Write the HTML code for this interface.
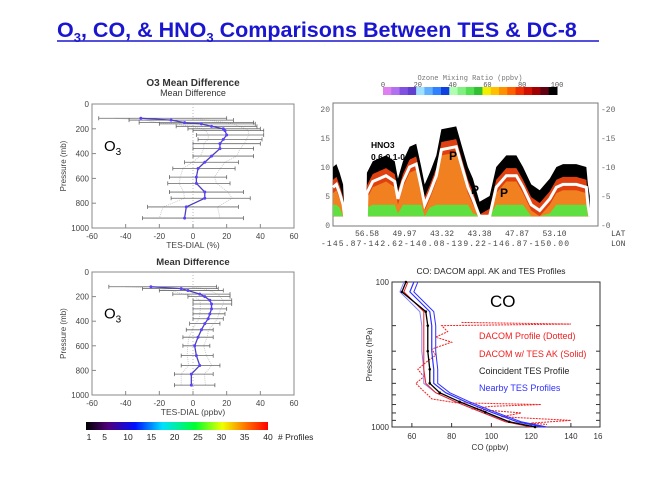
<!DOCTYPE html>
<html><head><meta charset="utf-8">
<style>
html,body{margin:0;padding:0;background:#fff;}
svg{display:block;font-family:"Liberation Sans",sans-serif;}
</style></head>
<body>
<svg id="s" width="667" height="500" viewBox="0 0 667 500">
<defs>
<linearGradient id="rain" x1="0" x2="1" y1="0" y2="0">
<stop offset="0" stop-color="#000"/><stop offset="0.12" stop-color="#50007a"/><stop offset="0.27" stop-color="#0010ff"/><stop offset="0.42" stop-color="#00e0ff"/><stop offset="0.6" stop-color="#00ff30"/><stop offset="0.75" stop-color="#f0ff00"/><stop offset="0.88" stop-color="#ff7000"/><stop offset="1" stop-color="#ff0000"/>
</linearGradient>
</defs>
<g>
<text x="57" y="37" font-size="21.5" font-weight="bold" fill="#1a16d0">O<tspan font-size="13" dy="5">3</tspan><tspan dy="-5">, CO, &amp; HNO</tspan><tspan font-size="13" dy="5">3</tspan><tspan dy="-5"> Comparisons Between TES &amp; DC-8</tspan></text>
<line x1="57" y1="41" x2="599" y2="41" stroke="#1a16d0" stroke-width="1.5"/>
</g>
<g id="tl"></g>
<g id="bl"></g>
<g id="tr"></g>
<g id="br"></g>
</svg>
<script>
// ---- O3 % panel data ----
const pctLevels=[115,130,150,160,180,200,215,250,285,320,360,420,470,520,590,640,710,760,830,920];
const pctMean=[-31,-13,-5,5,11,18,19,20,18,16,16,11,7,3,2,2,7,7,-4,-5];
const pctLo=[-56,-38,-32,-20,-10,-3,0,2,3,0,0,0,-5,-12,-14,-15,-14,-13,-27,-30];
const pctHi=[20,24,36,37,38,40,42,42,41,40,36,36,27,25,20,22,30,34,27,30];
// ---- O3 ppbv panel data ----
const ppbLevels=[120,135,150,180,200,230,260,300,340,380,420,470,530,600,680,760,830,920];
const ppbMean=[-25,-7,-3,4,7,10,11,11,10,9,7,5,3,1,2,4,-1,-1];
const ppbLo=[-50,-30,-20,-12,-3,0,0,0,0,0,-2,-4,-6,-6,-7,-7,-11,-11];
const ppbHi=[14,15,18,22,22,23,23,20,19,18,16,12,12,10,12,16,12,13];
const diffTicksX=[-60,-40,-20,0,20,40,60];
const presTicks=[0,200,400,600,800,1000];
const profTicks=[1,5,10,15,20,25,30,35,40];
// ---- curtain data ----
const curtFrac=[0,0.013,0.025,0.038,0.044,0.1,0.126,0.128,0.15,0.2,0.233,0.245,0.264,0.289,0.314,0.333,0.346,0.365,0.39,0.409,0.465,0.49,0.509,0.528,0.553,0.591,0.616,0.654,0.692,0.717,0.748,0.78,0.818,0.843,0.868,0.918,0.956,0.962,0.969];
const curtTop=[10,10.5,9,7,1.5,1.5,1.5,9,11,12,11,8,11,13.5,14,10,7,9,12,16.5,17,13,10,8,4,5,10,12,12,10,7,6,8,10,10.5,10.5,10,7,5];
const latLabels=["56.58","49.97","43.32","43.38","47.87","53.10"];
const lonLabels=["-145.87-142.62-140.08-139.22-146.87-150.00"];
const altTicks=[0,5,10,15,20];
const ozTicks=[0,20,40,60,80,100];
// ---- CO data ----
const coP=[100,117,160,200,300,400,500,580,670,790,920,1000];
const coTES=[57,55,67,68,68,69,69,74,84,97,109,122];
const coAK=[58,56,66,66,66,66,67,72,82,95,107,120];
const coNear=[61,59,69,70,70,71,71,77,87,100,113,126];
const dacP=[190,195,200,220,240,260,290,320,350,400,450,500,550,600,640,680,700,720,750,800,850,900,940,960];
const dacV=[85,140,75,78,72,80,70,72,68,63,66,62,65,68,70,82,125,100,90,115,105,140,120,128];
const coXTicks=[60,80,100,120,140];
const NS='http://www.w3.org/2000/svg';
function mk(p,t,a,txt){const e=document.createElementNS(NS,t);for(const k in a)e.setAttribute(k,a[k]);if(txt!==undefined)e.textContent=txt;p.appendChild(e);return e;}

function diffPanel(g,L,T,R,B,levels,mean,lo,hi,titles,xlab){
  const sx=v=>L+(v+60)/120*(R-L), sy=p=>T+p/1000*(B-T);
  let f=mk(g,'rect',{x:L,y:T,width:R-L,height:B-T,fill:'#fff',stroke:'#888','stroke-width':1});
  
  
  titles.forEach((t,i)=>{let e=mk(g,'text',{x:(L+R)/2,y:t.y,'font-size':t.s,'font-weight':t.b?'bold':'normal','text-anchor':'middle',fill:'#333'},t.t);
    
    });
  mk(g,'line',{x1:sx(0),x2:sx(0),y1:T,y2:B,stroke:'#bbb','stroke-dasharray':'1,2'});
  diffTicksX.forEach(v=>{mk(g,'line',{x1:sx(v),x2:sx(v),y1:B,y2:B-4,stroke:'#888'});
    let e=mk(g,'text',{x:sx(v),y:B+11,'font-size':8,'text-anchor':'middle',fill:'#444'},v);
    
    });
  presTicks.forEach(v=>{mk(g,'line',{x1:L,x2:L+4,y1:sy(v),y2:sy(v),stroke:'#888'});
    let e=mk(g,'text',{x:L-3,y:sy(v)+3,'font-size':8,'text-anchor':'end',fill:'#444'},v);
    
    });
  let xl=mk(g,'text',{x:(L+R)/2,y:B+20,'font-size':8.5,'text-anchor':'middle',fill:'#444'},xlab);
  
  
  let yl=mk(g,'text',{x:0,y:0,'font-size':8,'text-anchor':'middle',fill:'#444',transform:`translate(${L-26},${(T+B)/2}) rotate(-90)`},'Pressure (mb)');
  
  
  let pl=levels.map((p,i)=>sx(lo[i]*0.6+mean[i]*0.4)+','+sy(p)).join(' ');
  mk(g,'polyline',{points:pl,fill:'none',stroke:'#ccc','stroke-dasharray':'1,1'});
  let ph=levels.map((p,i)=>sx(hi[i]*0.6+mean[i]*0.4)+','+sy(p)).join(' ');
  mk(g,'polyline',{points:ph,fill:'none',stroke:'#ccc','stroke-dasharray':'1,1'});
  levels.forEach((p,i)=>{let y=sy(p);
    let e=mk(g,'line',{x1:sx(lo[i]),x2:sx(hi[i]),y1:y,y2:y,stroke:'#666','stroke-width':0.8});
    
    
    mk(g,'line',{x1:sx(lo[i]),x2:sx(lo[i]),y1:y-2,y2:y+2,stroke:'#666','stroke-width':0.8});
    mk(g,'line',{x1:sx(hi[i]),x2:sx(hi[i]),y1:y-2,y2:y+2,stroke:'#666','stroke-width':0.8});});
  let ml=mk(g,'polyline',{points:levels.map((p,i)=>sx(mean[i])+','+sy(p)).join(' '),fill:'none',stroke:'#4a40c0','stroke-width':1.3});
  
  
  levels.forEach((p,i)=>{let c=mk(g,'circle',{cx:sx(mean[i]),cy:sy(p),r:1.5,fill:'#5a40ff'});
    
    });
  let o=mk(g,'text',{x:L+12,y:T+(B-T)*0.38,'font-size':15,fill:'#000'});
  o.innerHTML='O<tspan font-size="10" dy="4">3</tspan>';
  
  
}
diffPanel(document.getElementById('tl'),92,104,294,228,pctLevels,pctMean,pctLo,pctHi,
 [{t:'O3 Mean Difference',y:86,s:10,b:1},{t:'Mean Difference',y:96,s:9}],'TES-DIAL (%)');
diffPanel(document.getElementById('bl'),92,272,294,395,ppbLevels,ppbMean,ppbLo,ppbHi,
 [{t:'Mean Difference',y:265,s:9.5,b:1}],'TES-DIAL (ppbv)');
(function(){const g=document.getElementById('bl');const L=86,R=268;
 let r=mk(g,'rect',{x:L,y:422,width:R-L,height:8,fill:'url(#rain)'});
 
 
 profTicks.forEach(v=>{let e=mk(g,'text',{x:L+(v-1)/39*(R-L)+(v==1?3:0),y:440,'font-size':8.5,'text-anchor':'middle',fill:'#222'},v);
  
  });
 let e=mk(g,'text',{x:278,y:440,'font-size':8.5,fill:'#222'},'# Profiles');
 
 
})();
// curtain
(function(){const g=document.getElementById('tr');const L=333,R=598,T=103,B=226;
 const sx=f=>L+f*(R-L), sy=h=>225-h/20*116;
 mk(g,'rect',{x:L,y:T,width:R-L,height:B-T,fill:'#fff',stroke:'#777'});
 const cols=['#e080f0','#b070f0','#8050e0','#6040d0','#a0e0ff','#60b0ff','#3080ff','#1040e0','#b0ffb0','#80f080','#50e050','#30c030','#f0f000','#ffc000','#ff9000','#ff6000','#f03000','#d01000','#a00000','#600010','#000'];
 const cl=383,cr=557;
 cols.forEach((c,i)=>{let r=mk(g,'rect',{x:cl+i*(cr-cl)/cols.length,y:87,width:(cr-cl)/cols.length+0.5,height:8,fill:c});
  
  });
 ozTicks.forEach(v=>{let e=mk(g,'text',{x:cl+v/100*(cr-cl),y:87,'font-size':7,'text-anchor':'middle',fill:'#555','font-family':'Liberation Mono'},v);
  
  });
 let tt=mk(g,'text',{x:(cl+cr)/2,y:80,'font-size':7,'text-anchor':'middle',fill:'#777','font-family':'Liberation Mono'},'Ozone Mixing Ratio (ppbv)');
 
 
 const layer=(fn,fill,name)=>{let pts=[];
  curtFrac.forEach((f,i)=>pts.push(sx(f)+','+sy(fn(curtTop[i]))));
  for(let i=curtFrac.length-1;i>=0;i--)pts.push(sx(curtFrac[i])+','+sy(Math.min(curtTop[i],1.5)));
  let p=mk(g,'polygon',{points:pts.join(' '),fill:fill});
  
  };
 layer(h=>h,'#000','curtain-high-ozone');
 layer(h=>Math.max(h-2.2,1.5),'#e04010','curtain-mid-ozone');
 layer(h=>Math.max(h-4.5,1.5),'#f08020','curtain-mid-low-ozone');
 layer(h=>Math.min(Math.max(h-6,1.5),3.5),'#60e040','curtain-low-ozone');
 let tr=mk(g,'polyline',{points:curtFrac.map((f,i)=>sx(f)+','+sy(Math.max(curtTop[i]-3.5,1.5))).join(' '),fill:'none',stroke:'#fff','stroke-width':3});
 
 
 altTicks.forEach(v=>{['L','R'].forEach(s=>{let e=mk(g,'text',{x:s=='L'?L-3:R+3,y:sy(v)+3,'font-size':8,'text-anchor':s=='L'?'end':'start',fill:'#666','font-family':'Liberation Mono'},(s=='R'?'-':'')+v);
  
  });});
 latLabels.forEach((t,i)=>{let e=mk(g,'text',{x:L+22+i*37.5,y:236,'font-size':8,fill:'#444','font-family':'Liberation Mono'},t);
  
  });
 let lo=mk(g,'text',{x:L-12,y:246,'font-size':8,fill:'#444','font-family':'Liberation Mono',textLength:248},lonLabels[0]);
 
 
 mk(g,'text',{x:611,y:236,'font-size':8,fill:'#444','font-family':'Liberation Mono'},'LAT');
 mk(g,'text',{x:611,y:246,'font-size':8,fill:'#444','font-family':'Liberation Mono'},'LON');
 let h=mk(g,'text',{x:371,y:148,'font-size':8.5,'font-weight':'bold'},'HNO3');
 
 
 mk(g,'text',{x:371,y:160,'font-size':8.5,'font-weight':'bold'},'0.6-0.1-0.7');
 [[449,160],[471,194],[500,197]].forEach(p=>{let e=mk(g,'text',{x:p[0],y:p[1],'font-size':12,'font-weight':'bold'},'P');
  
  });
})();
// CO panel
(function(){const g=document.getElementById('br');const L=392,R=600,T=282,B=427;
 const sx=v=>L+(v-50)*1.9875, sy=p=>T+(Math.log10(p)-2)*(B-T);
 mk(g,'rect',{x:L,y:T,width:R-L,height:B-T,fill:'#fff',stroke:'#333'});
 let t=mk(g,'text',{x:(L+R)/2-5,y:274,'font-size':8.5,'text-anchor':'middle',fill:'#222'},'CO: DACOM appl. AK and TES Profiles');
 
 
 coXTicks.forEach(v=>{mk(g,'line',{x1:sx(v),x2:sx(v),y1:B,y2:B-4,stroke:'#333'});
  let e=mk(g,'text',{x:sx(v),y:B+12,'font-size':8,'text-anchor':'middle',fill:'#333'},v);
  
  });
 mk(g,'text',{x:598,y:B+12,'font-size':8,'text-anchor':'middle',fill:'#333'},'16');
 mk(g,'text',{x:490,y:450,'font-size':8,'text-anchor':'middle',fill:'#333'},'CO (ppbv)');
 [100,1000].forEach(v=>{let e=mk(g,'text',{x:L-3,y:sy(v)+3,'font-size':8,'text-anchor':'end',fill:'#333'},v);
  
  });
 [200,300,400,500,600,700,800,900].forEach(v=>{mk(g,'line',{x1:R,x2:R-4,y1:sy(v),y2:sy(v),stroke:'#333'});mk(g,'line',{x1:L,x2:L+4,y1:sy(v),y2:sy(v),stroke:'#333'});});
 let yl=mk(g,'text',{x:0,y:0,'font-size':8,'text-anchor':'middle',fill:'#333',transform:`translate(${L-20},${(T+B)/2}) rotate(-90)`},'Pressure (hPa)');
 
 
 const line=(vals,ps,col,w,dash,name)=>{let e=mk(g,'polyline',{points:ps.map((p,i)=>sx(vals[i])+','+sy(p)).join(' '),fill:'none',stroke:col,'stroke-width':w,'stroke-dasharray':dash||'none'});
  
  };
 line(dacV,dacP,'#f02020',1,'2,1','dacom-profile-dotted');
 line(coNear.map(v=>v+2),coP,'#3030ff',1,'','nearby-tes-profile');
 line(coNear,coP,'#3030ff',1.2,'','nearby-tes-profile');
 line(coNear.map(v=>v-5),coP,'#8080ff',1,'','nearby-tes-profile');
 line(coAK,coP,'#f02020',1,'','dacom-ak-solid');
 line(coTES,coP,'#000',1.3,'','coincident-tes-profile');
 coP.forEach((p,i)=>{let c=mk(g,'circle',{cx:sx(coTES[i]),cy:sy(p),r:1.3,fill:'#000'});
  
  });
 let co=mk(g,'text',{x:490,y:307,'font-size':17,fill:'#000'},'CO');
 
 
 [['DACOM Profile (Dotted)','#f02020',339],['DACOM w/ TES AK (Solid)','#f02020',357],['Coincident TES Profile','#222',374],['Nearby TES Profiles','#3030ff',391]].forEach(a=>{
  let e=mk(g,'text',{x:479,y:a[2],'font-size':9,fill:a[1]},a[0]);
  
  });
})();
</script>
</body></html>
